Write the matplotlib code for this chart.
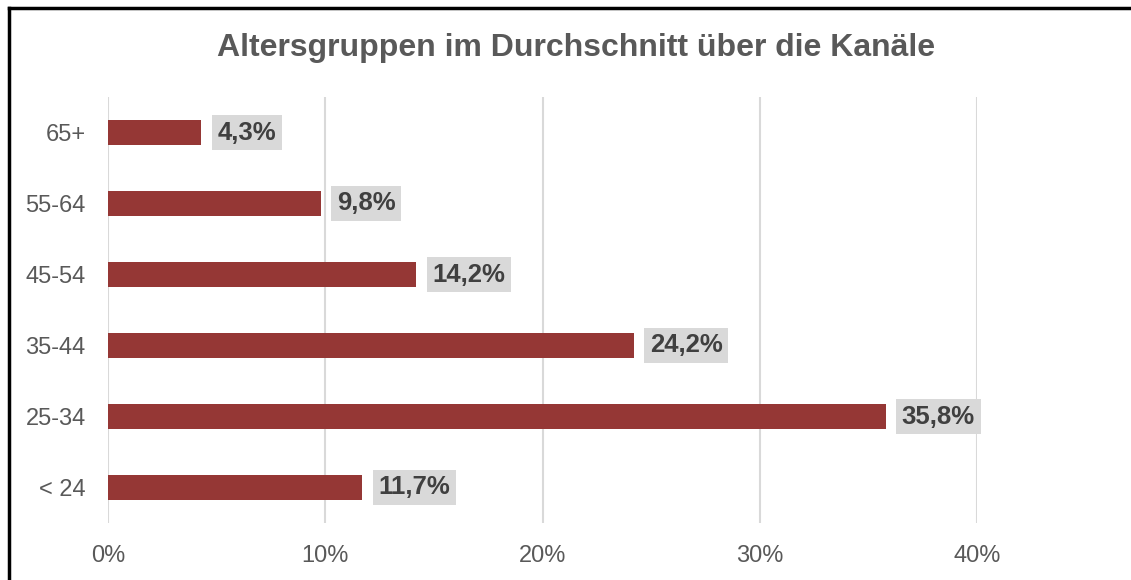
import matplotlib
matplotlib.use("Agg")
import matplotlib.pyplot as plt
from matplotlib.ticker import FuncFormatter
from matplotlib.lines import Line2D

categories = ["< 24", "25-34", "35-44", "45-54", "55-64", "65+"]
values = [11.7, 35.8, 24.2, 14.2, 9.8, 4.3]
labels = ["11,7%", "35,8%", "24,2%", "14,2%", "9,8%", "4,3%"]
title = "Altersgruppen im Durchschnitt über die Kanäle"

plt.rcParams['font.family'] = ['Liberation Sans', 'DejaVu Sans']

fig = plt.figure(figsize=(11.31, 5.80), dpi=100)
W, H = 1131, 580
ax = fig.add_axes([108 / W, 1 - 523 / H, (977 - 108) / W, (523 - 97) / H])

y = list(range(len(categories)))
ax.barh(y, values, height=0.35, color="#953735", zorder=3)
for yi, v, lab in zip(y, values, labels):
    ax.annotate(lab, (v, yi), xytext=(11.5, 0), textcoords="offset points",
                ha="left", va="center", fontsize=18.5, fontweight="bold",
                color="#404040", zorder=4,
                bbox=dict(boxstyle="square,pad=0.22", fc="#D9D9D9", ec="none"))

ax.set_xlim(0, 40)
ax.set_ylim(-0.5, len(categories) - 0.5)
ax.set_xticks([0, 10, 20, 30, 40])
ax.xaxis.set_major_formatter(FuncFormatter(lambda x, p: f"{x:.0f}%"))
ax.set_yticks(y)
ax.set_yticklabels(categories)
ax.tick_params(axis="both", length=0, labelsize=17, labelcolor="#595959")
ax.tick_params(axis="x", pad=16)
ax.tick_params(axis="y", pad=16)
ax.grid(axis="x", color="#D9D9D9", linewidth=1.5, zorder=0)
for s in ax.spines.values():
    s.set_visible(False)

fig.text(576 / W, 1 - 48 / H, title, ha="center", va="center",
         fontsize=23, fontweight="bold", color="#595959")

# figure border (left and top visible)
fig.add_artist(Line2D([8.5 / W, 8.5 / W], [0, 1 - 8 / H], transform=fig.transFigure,
                      color="black", linewidth=2.5))
fig.add_artist(Line2D([8.5 / W, 1], [1 - 8 / H, 1 - 8 / H], transform=fig.transFigure,
                      color="black", linewidth=2.5))

fig.savefig("out.png", dpi=100)
